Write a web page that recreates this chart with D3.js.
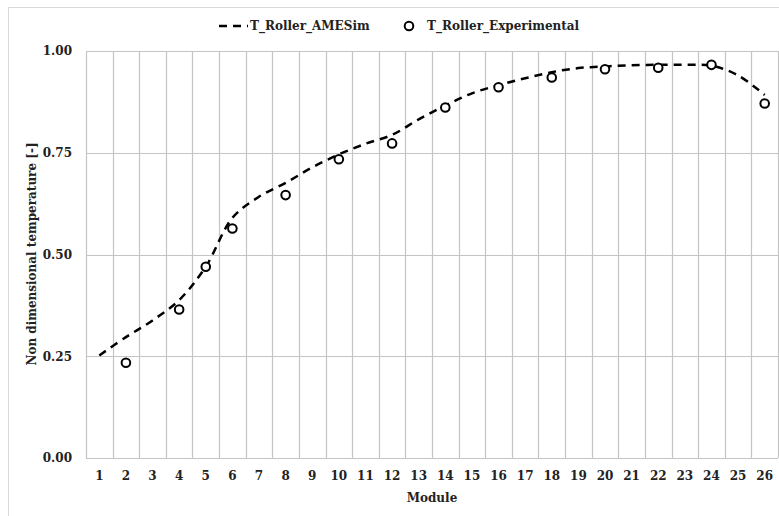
<!DOCTYPE html>
<html><head><meta charset="utf-8">
<script src="https://cdn.jsdelivr.net/npm/d3@7"></script>
<style>body{margin:0;background:#fff}svg{display:block}</style>
</head><body>
<svg id="c" width="779" height="516"></svg>
<script>
const modules = d3.range(1, 27);
const amesim = [0.252,0.297,0.338,0.388,0.47,0.59,0.642,0.676,0.714,0.746,0.772,0.794,0.832,0.866,0.896,0.916,0.933,0.948,0.958,0.962,0.965,0.966,0.966,0.964,0.94,0.892];
const expModules = [2,4,5,6,8,10,12,14,16,18,20,22,24,26];
const expValues = [0.234,0.365,0.47,0.564,0.646,0.734,0.773,0.861,0.911,0.935,0.955,0.959,0.966,0.871];
const yTicks = [0,0.25,0.5,0.75,1];
const seriesNames = ["T_Roller_AMESim","T_Roller_Experimental"];

const svg = d3.select("#c");
const font = "'DejaVu Serif', serif";
const m = {l:86, r:778, t:51, b:458};
const x = d3.scaleBand().domain(modules).range([m.l, m.r]);
const y = d3.scaleLinear().domain([0,1]).range([m.b, m.t]);
const grid = "#c4c4c4";

svg.append("rect").attr("x",8.5).attr("y",7.5).attr("width",900).attr("height",700)
  .attr("fill","#fff").attr("stroke","#d9d9d9");

// horizontal grid
svg.append("g").selectAll("line").data(yTicks).join("line")
  .attr("x1",m.l).attr("x2",m.r).attr("y1",d=>Math.round(y(d))+0.5).attr("y2",d=>Math.round(y(d))+0.5)
  .attr("stroke",grid).attr("stroke-width",1.2);
// vertical grid at band edges
const edges = modules.map(d=>x(d)).concat([m.r]);
svg.append("g").selectAll("line").data(edges).join("line")
  .attr("x1",d=>Math.round(d)+0.5).attr("x2",d=>Math.round(d)+0.5).attr("y1",m.t).attr("y2",m.b)
  .attr("stroke",grid).attr("stroke-width",1.2);

// axes labels
const ya = svg.append("g").attr("transform",`translate(${m.l},0)`)
  .call(d3.axisLeft(y).tickValues(yTicks).tickFormat(d3.format(".2f")).tickSize(0).tickPadding(14));
ya.select(".domain").remove();
ya.selectAll("text").attr("font-family",font).attr("font-weight","bold").attr("font-size",12).attr("fill","#222");

const xa = svg.append("g").attr("transform",`translate(0,${m.b})`)
  .call(d3.axisBottom(x).tickSize(0).tickPadding(13));
xa.select(".domain").remove();
xa.selectAll("text").attr("font-family",font).attr("font-weight","bold").attr("font-size",12).attr("fill","#222");

svg.append("text").attr("x",432).attr("y",502).attr("text-anchor","middle")
  .attr("font-family",font).attr("font-weight","bold").attr("font-size",12).attr("fill","#222").text("Module");
svg.append("text").attr("transform","translate(36,254) rotate(-90)").attr("text-anchor","middle")
  .attr("font-family",font).attr("font-weight","bold").attr("font-size",12).attr("fill","#222")
  .text("Non dimensional temperature [-]");

// line
const cx = d => x(d) + x.bandwidth()/2;
const line = d3.line().x((d,i)=>cx(modules[i])).y(d=>y(d)).curve(d3.curveCatmullRom.alpha(0.5));
svg.append("path").attr("d",line(amesim)).attr("fill","none").attr("stroke","#000")
  .attr("stroke-width",2.5).attr("stroke-dasharray","8,6");

// points
svg.append("g").selectAll("circle").data(expValues).join("circle")
  .attr("cx",(d,i)=>cx(expModules[i])).attr("cy",d=>y(d)).attr("r",4.3)
  .attr("fill","#fff").attr("stroke","#000").attr("stroke-width",2);

// legend
const lg = svg.append("g").attr("font-family",font).attr("font-weight","bold").attr("font-size",12).attr("fill","#222");
lg.append("line").attr("x1",219).attr("x2",248).attr("y1",26).attr("y2",26).attr("stroke","#000")
  .attr("stroke-width",2.5).attr("stroke-dasharray","8,6");
lg.append("text").attr("x",250).attr("y",30).text(seriesNames[0]);
lg.append("circle").attr("cx",409).attr("cy",26).attr("r",4.3).attr("fill","#fff").attr("stroke","#000").attr("stroke-width",2);
lg.append("text").attr("x",427).attr("y",30).text(seriesNames[1]);
</script>
</body></html>
